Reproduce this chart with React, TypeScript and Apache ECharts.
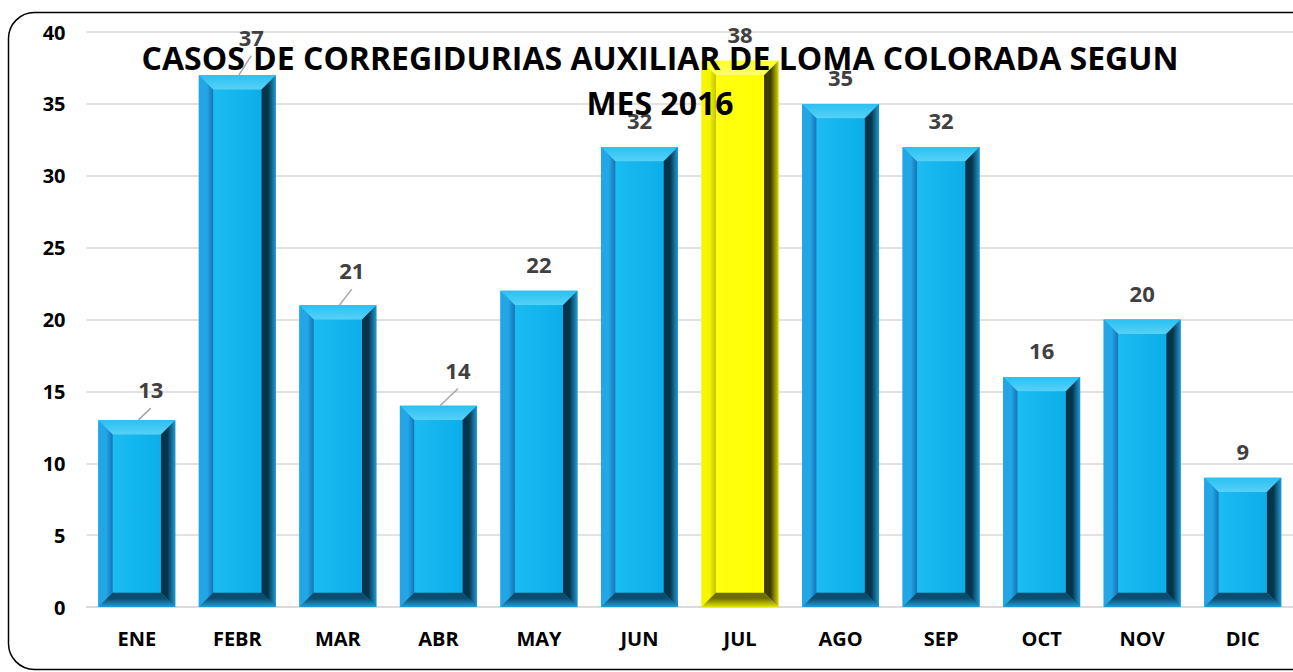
import React, { useEffect, useRef } from "react";
import * as echarts from "echarts";

// ---- data ----
const months = ["ENE", "FEBR", "MAR", "ABR", "MAY", "JUN", "JUL", "AGO", "SEP", "OCT", "NOV", "DIC"];
const cases = [13, 37, 21, 14, 22, 32, 38, 35, 32, 16, 20, 9];
const yMin = 0;
const yMax = 40;
const yStep = 5;
const highlightMonth = "JUL";
const titleLines = ["CASOS DE CORREGIDURIAS AUXILIAR DE LOMA COLORADA SEGUN", "MES 2016"];

// ---- label placement tweaks (pixels, relative to default position above bar) ----
const labelNudge: Record<string, [number, number]> = {
  ENE: [14, -4],
  FEBR: [14, -11.5],
  MAR: [14, -8],
  ABR: [19.5, -9],
};

const FONT = "'Open Sans', 'Liberation Sans', sans-serif";

const bluePal = {
  base: "#1aa6e2",
  topOuter: "#2cbff2",
  topInner: "#55d2f7",
  leftOuter: "#23a6e6",
  leftInner: "#1673b5",
  rightInner: "#06344b",
  rightOuter: "#1f9bd2",
  bottomInner: "#0a4d6e",
  bottomOuter: "#1a9fdc",
  faceL: "#1bbcf2",
  faceR: "#0caeea",
};
const yellowPal = {
  base: "#ffff00",
  topOuter: "#ffff2a",
  topInner: "#ffff70",
  leftOuter: "#f6f600",
  leftInner: "#c2c200",
  rightInner: "#3c3c00",
  rightOuter: "#d6d600",
  bottomInner: "#6e6e00",
  bottomOuter: "#e4e400",
  faceL: "#ffff10",
  faceR: "#ffff00",
};

export default function App() {
  const ref = useRef<HTMLDivElement>(null);

  useEffect(() => {
    if (!ref.current) return;
    const chart = echarts.init(ref.current, undefined, { renderer: "svg" });
    const LG = echarts.graphic.LinearGradient;

    const renderItem = (params: any, api: any) => {
      const idx = api.value(0);
      const v = api.value(1);
      const top = api.coord([idx, v]);
      const base = api.coord([idx, 0]);
      const band = api.size([1, 0])[0];
      const w = band * 0.766;
      const cx = top[0];
      const x0 = cx - w / 2;
      const x1 = cx + w / 2;
      const yT = top[1];
      const yB = base[1];
      const b = Math.min(14.5, (yB - yT) / 2);
      const pal = months[idx] === highlightMonth ? yellowPal : bluePal;
      const nudge = labelNudge[months[idx]];
      const lx = cx + (nudge ? nudge[0] : 0);
      const ly = yT - 27 + (nudge ? nudge[1] : 0);

      const children: any[] = [
        { type: "rect", shape: { x: x0, y: yT, width: w, height: yB - yT }, style: { fill: pal.base } },
        {
          type: "polygon",
          shape: { points: [[x0, yT], [x1, yT], [x1 - b, yT + b], [x0 + b, yT + b]] },
          style: { fill: new LG(0, 0, 0, 1, [{ offset: 0, color: pal.topOuter }, { offset: 1, color: pal.topInner }]) },
        },
        {
          type: "polygon",
          shape: { points: [[x0, yT], [x0 + b, yT + b], [x0 + b, yB - b], [x0, yB]] },
          style: { fill: new LG(0, 0, 1, 0, [{ offset: 0, color: pal.leftOuter }, { offset: 0.55, color: pal.leftOuter }, { offset: 1, color: pal.leftInner }]) },
        },
        {
          type: "polygon",
          shape: { points: [[x1, yT], [x1, yB], [x1 - b, yB - b], [x1 - b, yT + b]] },
          style: { fill: new LG(0, 0, 1, 0, [{ offset: 0, color: pal.rightInner }, { offset: 0.45, color: pal.rightInner }, { offset: 1, color: pal.rightOuter }]) },
        },
        {
          type: "polygon",
          shape: { points: [[x0, yB], [x1, yB], [x1 - b, yB - b], [x0 + b, yB - b]] },
          style: { fill: new LG(0, 0, 0, 1, [{ offset: 0, color: pal.bottomInner }, { offset: 0.4, color: pal.bottomInner }, { offset: 1, color: pal.bottomOuter }]) },
        },
        {
          type: "rect",
          shape: { x: x0 + b, y: yT + b, width: Math.max(0, w - 2 * b), height: Math.max(0, yB - yT - 2 * b) },
          style: { fill: new LG(0, 0, 1, 0, [{ offset: 0, color: pal.faceL }, { offset: 1, color: pal.faceR }]) },
        },
        {
          type: "text",
          x: lx,
          y: ly,
          z2: 20,
          style: {
            text: String(v),
            fill: "#404040",
            fontSize: 22,
            fontWeight: "bold",
            fontFamily: FONT,
            align: "center",
            verticalAlign: "middle",
          },
        },
      ];
      if (nudge) {
        children.push({
          type: "line",
          shape: { x1: cx + 1.5, y1: yT, x2: lx, y2: ly + 19 },
          style: { stroke: "#a6a6a6", lineWidth: 1.5 },
        });
      }
      return { type: "group", children };
    };

    chart.setOption({
      animation: false,
      backgroundColor: "#ffffff",
      grid: { left: 86.5, right: -5.5, top: 32, bottom: 65, containLabel: false },
      xAxis: {
        type: "category",
        data: months,
        axisTick: { show: false },
        axisLine: { lineStyle: { color: "#d9d9d9", width: 1.5 } },
        axisLabel: { fontSize: 20, fontWeight: "bold", color: "#000", fontFamily: FONT, margin: 21 },
      },
      yAxis: {
        type: "value",
        min: yMin,
        max: yMax,
        interval: yStep,
        axisLine: { show: false },
        axisTick: { show: false },
        splitLine: { lineStyle: { color: "#d9d9d9", width: 1.5 } },
        axisLabel: { fontSize: 20, fontWeight: "bold", color: "#000", fontFamily: FONT, margin: 21 },
      },
      series: [
        {
          type: "custom",
          renderItem,
          encode: { x: 0, y: 1 },
          data: months.map((m, i) => [i, cases[i]]),
          z: 2,
        },
      ],
      graphic: [
        {
          type: "rect",
          silent: true,
          z: 100,
          shape: { x: 8.5, y: 12.5, width: 1310, height: 657, r: 26 },
          style: { fill: "none", stroke: "#000", lineWidth: 1.5 },
        },
        ...titleLines.map((t, i) => ({
          type: "text",
          silent: true,
          z: 100,
          x: 660,
          y: 57.5 + i * 45,
          style: {
            text: t,
            fill: "#000",
            fontSize: 32,
            fontWeight: "bold",
            fontFamily: FONT,
            align: "center",
            verticalAlign: "middle",
          },
        })),
      ],
    });

    return () => chart.dispose();
  }, []);

  return (
    <div
      ref={ref}
      style={{ position: "fixed", left: 0, top: 0, width: 1293, height: 672 }}
    />
  );
}
